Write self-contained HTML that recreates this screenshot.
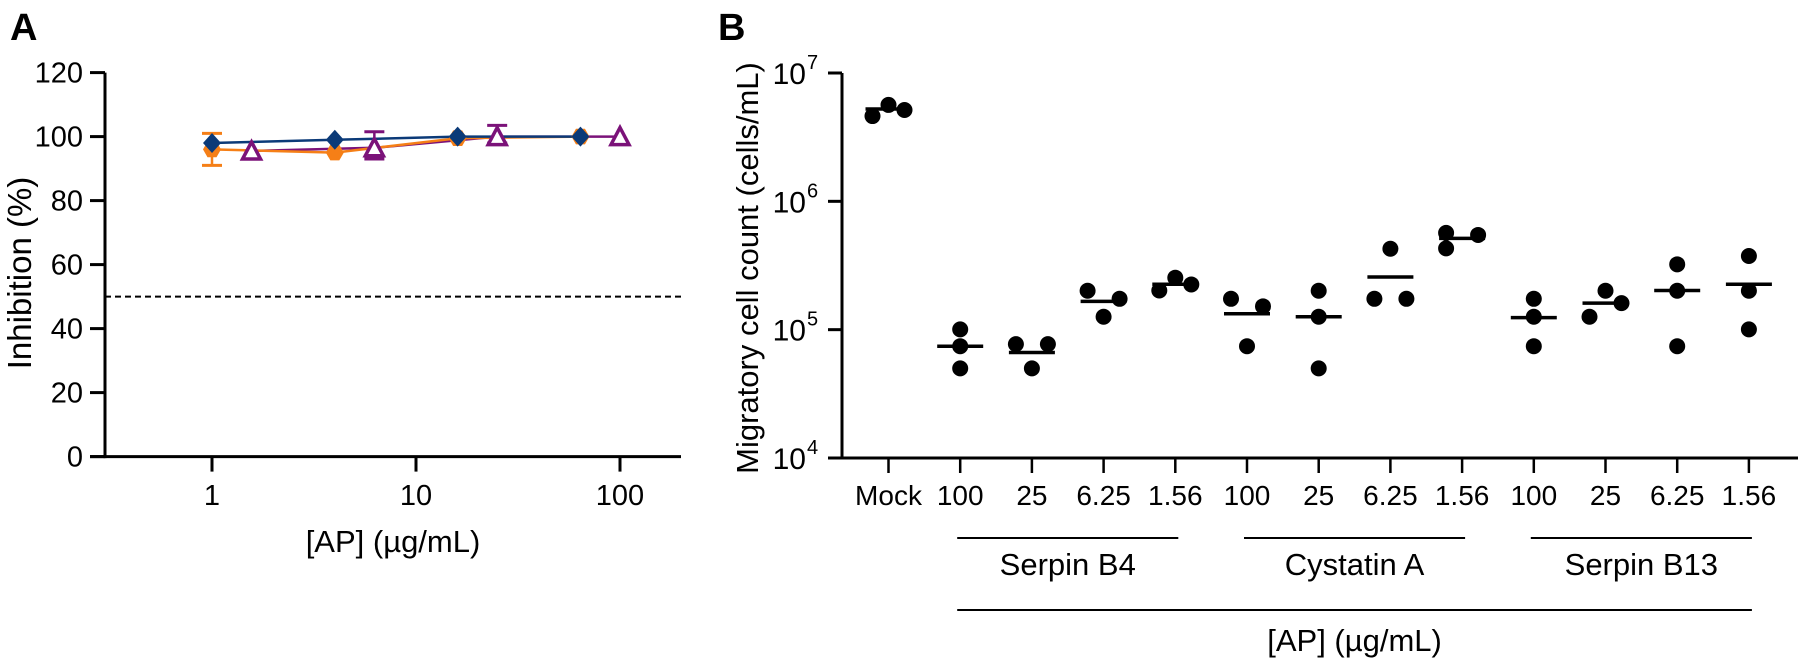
<!DOCTYPE html>
<html><head><meta charset="utf-8"><style>
body{margin:0;background:#fff}
svg{display:block;font-family:"Liberation Sans",Arial,sans-serif}
</style></head><body>
<svg id="c" width="1800" height="658" viewBox="0 0 1800 658" xmlns="http://www.w3.org/2000/svg">
<text x="10" y="40" font-size="38" font-weight="bold">A</text>
<text x="718" y="40" font-size="38" font-weight="bold">B</text>
<g id="ga"></g>
<g id="gb"></g>
</svg>
<script>
// ---------- Panel A data ----------
const aYTicks = [0,20,40,60,80,100,120];
const aXTicks = [1,10,100];
const aXTickLabels = ["1","10","100"];
const navyX = [1,4,16,64];
const navyY = [98,99,100,100];
const orangeX = [1,4,16,64];
const orangeY = [96,95,99.5,100];
const orangeErrLo = [91,95,99.5,100];
const orangeErrHi = [101,95,99.5,100];
const purpleX = [1.5625,6.25,25,100];
const purpleY = [95.5,96.5,100,100];
const purpleErrLo = [95.5,93,98,100];
const purpleErrHi = [95.5,101.5,103.5,100];
const threshold = 50;

// ---------- Panel B data ----------
const bCategories = ["Mock","100","25","6.25","1.56","100","25","6.25","1.56","100","25","6.25","1.56"];
const bPoints = [
 [4620000,5640000,5150000],
 [100500,74300,49900],
 [77100,77100,49900],
 [201000,174000,126000],
 [202000,254000,225000],
 [174000,152000,74300],
 [201000,126000,49900],
 [427000,174000,174000],
 [568000,430000,547000],
 [174000,126000,74300],
 [201000,126000,161000],
 [323000,201000,74300],
 [375000,201000,100500]
];
const bJitter = [
 [-1,0,1],[0,0,0],[-1,1,0],[-1,1,0],[-1,0,1],[-1,1,0],[0,0,0],[0,-1,1],[-1,-1,1],[0,0,0],[0,-1,1],[0,0,0],[0,0,0]
];
const bMeans = [5240000,74300,66400,166000,226000,133000,126000,257000,514000,124000,161000,202000,226000];
const bYTickExp = [4,5,6,7];
const bGroups = ["Serpin B4","Cystatin A","Serpin B13"];

const NS="http://www.w3.org/2000/svg";
function mk(parent,tag,attrs,txt){const e=document.createElementNS(NS,tag);for(const k in attrs)e.setAttribute(k,attrs[k]);if(txt!==undefined)e.textContent=txt;parent.appendChild(e);return e;}

// ---------- Panel A ----------
const ga=document.getElementById('ga');
const ax=v=>212+Math.log10(v)*204;
const ay=v=>456.6-v*3.2;
let e;
e=mk(ga,'line',{x1:105,y1:ay(120),x2:105,y2:ay(0)+1.5,stroke:'#000','stroke-width':3});


e=mk(ga,'line',{x1:90,y1:ay(0),x2:681,y2:ay(0),stroke:'#000','stroke-width':3});


aYTicks.forEach(t=>{
 mk(ga,'line',{x1:90,y1:ay(t),x2:105,y2:ay(t),stroke:'#000','stroke-width':3});
 e=mk(ga,'text',{x:83,y:ay(t)+10,'font-size':29,'text-anchor':'end'},String(t));
 
 
});
aXTicks.forEach((t,i)=>{
 mk(ga,'line',{x1:ax(t),y1:ay(0),x2:ax(t),y2:ay(0)+15,stroke:'#000','stroke-width':3});
 e=mk(ga,'text',{x:ax(t),y:505,'font-size':29,'text-anchor':'middle'},aXTickLabels[i]);
 
 
});
e=mk(ga,'text',{x:393,y:552,'font-size':31,'text-anchor':'middle'},'[AP] (µg/mL)');


e=mk(ga,'text',{x:0,y:0,'font-size':33,'text-anchor':'middle',transform:'translate(31,273) rotate(-90)'},'Inhibition (%)');


e=mk(ga,'line',{x1:105,y1:ay(threshold),x2:681,y2:ay(threshold),stroke:'#000','stroke-width':2,'stroke-dasharray':'6,4'});



function errbars(xs,ys,lo,hi,col){
 xs.forEach((x,i)=>{ if(hi[i]>ys[i]||lo[i]<ys[i]){
  const X=ax(x);
  mk(ga,'line',{x1:X,y1:ay(lo[i]),x2:X,y2:ay(hi[i]),stroke:col,'stroke-width':2.5});
  if(hi[i]>ys[i]) mk(ga,'line',{x1:X-10,y1:ay(hi[i]),x2:X+10,y2:ay(hi[i]),stroke:col,'stroke-width':3});
  if(lo[i]<ys[i]) mk(ga,'line',{x1:X-10,y1:ay(lo[i]),x2:X+10,y2:ay(lo[i]),stroke:col,'stroke-width':3});
 }});
}
const poly=(xs,ys)=>xs.map((x,i)=>ax(x)+','+ay(ys[i])).join(' ');
errbars(orangeX,orangeY,orangeErrLo,orangeErrHi,'#f57f17');
errbars(purpleX,purpleY,purpleErrLo,purpleErrHi,'#7b1279');
e=mk(ga,'polyline',{points:poly(purpleX,purpleY),fill:'none',stroke:'#7b1279','stroke-width':2.5});


e=mk(ga,'polyline',{points:poly(orangeX,orangeY),fill:'none',stroke:'#f57f17','stroke-width':2.5});


e=mk(ga,'polyline',{points:poly(navyX,navyY),fill:'none',stroke:'#0b3a78','stroke-width':2.5});


orangeX.forEach((x,i)=>{
 const X=ax(x),Y=ay(orangeY[i]);let p=[];
 for(let k=0;k<6;k++){const a=Math.PI/3*k;p.push((X+9*Math.cos(a))+','+(Y+9*Math.sin(a)));}
 e=mk(ga,'polygon',{points:p.join(' '),fill:'#f57f17'});
 
 
});
purpleX.forEach((x,i)=>{
 const X=ax(x),Y=ay(purpleY[i]);
 e=mk(ga,'polygon',{points:`${X},${Y-9} ${X-9},${Y+8} ${X+9},${Y+8}`,fill:'#fff',stroke:'#7b1279','stroke-width':3.5});
 
 
});
navyX.forEach((x,i)=>{
 const X=ax(x),Y=ay(navyY[i]);
 e=mk(ga,'polygon',{points:`${X},${Y-10} ${X+9},${Y} ${X},${Y+10} ${X-9},${Y}`,fill:'#0b3a78'});
 
 
});

// ---------- Panel B ----------
const gb=document.getElementById('gb');
const bx=i=>888.5+i*71.7;
const by=v=>73+(7-Math.log10(v))*128.33;
e=mk(gb,'line',{x1:842,y1:by(1e7),x2:842,y2:by(1e4)+1.5,stroke:'#000','stroke-width':3});


e=mk(gb,'line',{x1:842,y1:by(1e4),x2:1798,y2:by(1e4),stroke:'#000','stroke-width':3});


bYTickExp.forEach(p=>{
 const Y=by(Math.pow(10,p));
 mk(gb,'line',{x1:828,y1:Y,x2:842,y2:Y,stroke:'#000','stroke-width':3});
 e=mk(gb,'text',{x:806,y:Y+11,'font-size':30,'text-anchor':'end'},'10');
 
 
 mk(gb,'text',{x:807,y:Y-4,'font-size':20},String(p));
});
bCategories.forEach((c,i)=>{
 mk(gb,'line',{x1:bx(i),y1:by(1e4),x2:bx(i),y2:by(1e4)+15,stroke:'#000','stroke-width':2.5});
 e=mk(gb,'text',{x:bx(i),y:505,'font-size':28,'text-anchor':'middle'},c);
 
 
});
bGroups.forEach((g,k)=>{
 const x1=bx(1+k*4)-3,x2=bx(4+k*4)+3;
 e=mk(gb,'line',{x1:x1,y1:538,x2:x2,y2:538,stroke:'#000','stroke-width':2});
 
 
 e=mk(gb,'text',{x:(x1+x2)/2,y:575,'font-size':31,'text-anchor':'middle'},g);
 
 
});
e=mk(gb,'line',{x1:bx(1)-3,y1:610,x2:bx(12)+3,y2:610,stroke:'#000','stroke-width':2});


e=mk(gb,'text',{x:(bx(1)+bx(12))/2,y:651,'font-size':31,'text-anchor':'middle'},'[AP] (µg/mL)');


e=mk(gb,'text',{x:0,y:0,'font-size':31,'text-anchor':'middle',transform:'translate(758,268) rotate(-90)'},'Migratory cell count (cells/mL)');


bPoints.forEach((pts,i)=>{
 pts.forEach((v,j)=>{
  e=mk(gb,'circle',{cx:bx(i)+bJitter[i][j]*16,cy:by(v),r:8,fill:'#000'});
  
  
 });
 e=mk(gb,'line',{x1:bx(i)-23,y1:by(bMeans[i]),x2:bx(i)+23,y2:by(bMeans[i]),stroke:'#000','stroke-width':3.5});
 
 
});
</script>
</body></html>
